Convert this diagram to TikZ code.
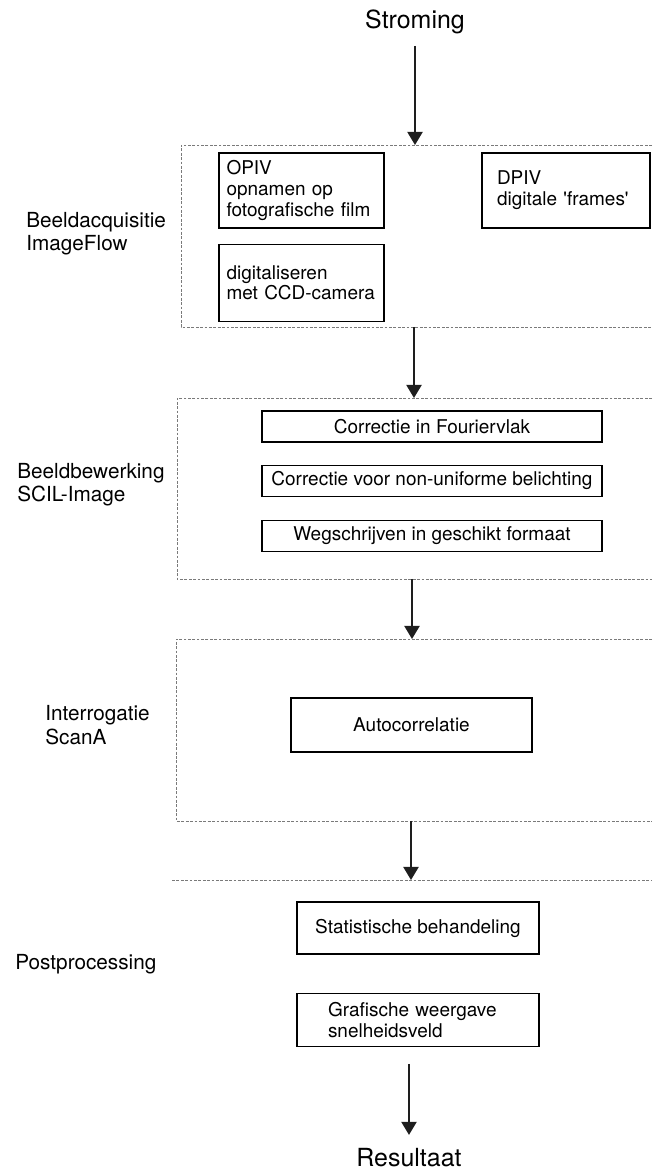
\documentclass[tikz,border=0pt]{standalone}
\usepackage{fontspec}
\setmainfont{TeX Gyre Heros}
\usepackage{tikz}
\usetikzlibrary{arrows.meta, positioning}
\definecolor{pivInk}{HTML}{1E1E1E}
\definecolor{pivFrame}{HTML}{7A7A7A}
\tikzset{
  stepbox/.style={draw=black, line width=0.7pt, fill=white, inner ysep=2pt,
                  font=\fontsize{10.8}{11.9}\selectfont},
  stepleft/.style={stepbox, align=left, inner xsep=0.15cm},
  widebox/.style={stepbox, minimum width=6.8cm, minimum height=0.62cm},
  stagebox/.style={draw=pivFrame, line width=0.5pt, dash pattern=on 1.6pt off 0.9pt},
  stagelabel/.style={anchor=west, align=left, inner sep=0pt,
                     font=\fontsize{11.8}{13.3}\selectfont},
  endlabel/.style={inner sep=0pt, font=\fontsize{14.2}{16}\selectfont},
  flow/.style={draw=pivInk, line width=1.1pt, -{Triangle[length=2.6mm,width=3mm]}},
}

\begin{document}
\begin{tikzpicture}
\useasboundingbox (0,0) rectangle (13.04,23.4);

% in- en uitvoer
\node[endlabel, anchor=base] (strom) at (8.30,22.82) {Stroming};
\node[endlabel, anchor=base] (result) at (8.18,0.06) {Resultaat};

% stages (frames open on the right)
\draw[stagebox] (13.04,20.50) -| (3.62,16.86) -- (13.04,16.86);
\draw[stagebox] (13.04,15.44) -| (3.54,11.82) -- (13.04,11.82);
\draw[stagebox] (13.04,10.62) -| (3.52,6.98) -- (13.04,6.98);
\draw[stagebox] (3.44,5.80) -- (13.04,5.80);
\coordinate (acqin) at (8.30,20.50);
\coordinate (acqout) at (8.28,16.86);
\coordinate (bewin) at (8.28,15.44);
\coordinate (bewout) at (8.24,11.82);
\coordinate (intin) at (8.24,10.62);
\coordinate (intout) at (8.22,6.98);
\coordinate (postin) at (8.22,5.80);

\node[stagelabel] (acqlbl) at (0.52,18.72) {Beeldacquisitie\\ImageFlow};
\node[stagelabel] (bewlbl) at (0.34,13.70) {Beeldbewerking\\SCIL-Image};
\node[stagelabel] (intlbl) at (0.90,8.90) {Interrogatie\\ScanA};
\node[stagelabel] (postlbl) at (0.30,4.12) {Postprocessing};

% beeldacquisitie
\node[stepleft, text width=3.0cm, minimum height=1.5cm] (opiv) at (6.03,19.59) {OPIV\\opnamen op\\fotografische film};
\node[stepleft, text width=2.76cm, inner xsep=0.3cm, minimum height=1.5cm] (dpiv) at (11.32,19.59) {DPIV\\digitale \textquotesingle frames\textquotesingle};
\node[stepleft, text width=3.0cm, minimum height=1.54cm, below=0.3cm of opiv] (ccd) {digitaliseren\\met CCD-camera};

% beeldbewerking
\node[widebox] (fourier) at (8.64,14.87) {Correctie in Fouriervlak};
\node[widebox, below=0.44cm of fourier] (belicht) {Correctie voor non-uniforme belichting};
\node[widebox, below=0.46cm of belicht] (format) {Wegschrijven in geschikt formaat};

% interrogatie
\node[stepbox, minimum width=4.82cm, minimum height=1.08cm] (autocor) at (8.23,8.90) {Autocorrelatie};

% postprocessing
\node[stepbox, minimum width=4.84cm, minimum height=1.04cm] (stat) at (8.36,4.84) {Statistische behandeling};
\node[stepleft, text width=3.6cm, inner xsep=0.62cm, minimum height=1.06cm, below=0.76cm of stat] (graf) {Grafische weergave\\snelheidsveld};

\draw[flow, shorten <=2.2mm] (strom) -- (acqin);
\draw[flow] (acqout) -- (bewin);
\draw[flow] (bewout) -- (intin);
\draw[flow] (intout) -- (postin);
\draw[flow, shorten <=3.4mm, shorten >=2.7mm] (graf.south -| result) -- (result);
\end{tikzpicture}
\end{document}
